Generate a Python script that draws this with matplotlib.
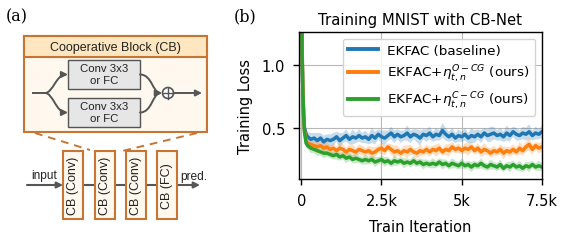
import matplotlib
matplotlib.use("Agg")
import matplotlib.pyplot as plt
from matplotlib.patches import Rectangle, FancyArrowPatch, Circle
from matplotlib.path import Path
import numpy as np

# ---------------- data ----------------
iters = [0, 25, 50, 75, 100, 150] + list(range(200, 7600, 100))

loss_base = [2.3, 1.15, 0.80, 0.60, 0.50, 0.45,
             0.43, 0.41, 0.42, 0.40, 0.42, 0.39, 0.41, 0.40,
             0.41, 0.43, 0.40, 0.42, 0.44, 0.41, 0.43, 0.42, 0.44, 0.42,
             0.43, 0.41, 0.44, 0.42, 0.45, 0.43, 0.42, 0.44, 0.46, 0.43,
             0.45, 0.43, 0.44, 0.46, 0.43, 0.45, 0.44, 0.42, 0.45, 0.44,
             0.46, 0.43, 0.45, 0.44, 0.48, 0.45, 0.43, 0.45, 0.42, 0.44,
             0.43, 0.45, 0.42, 0.44, 0.43, 0.45, 0.43, 0.46, 0.44, 0.45,
             0.46, 0.44, 0.45, 0.43, 0.46, 0.44, 0.47, 0.45, 0.44, 0.46,
             0.45, 0.47, 0.44, 0.46, 0.45, 0.47]
sd_base = [0.06, 0.06, 0.06, 0.05, 0.05, 0.05,
           0.04, 0.05, 0.04, 0.06, 0.04, 0.05, 0.04, 0.05,
           0.05, 0.04, 0.06, 0.04, 0.05, 0.04, 0.06, 0.04, 0.05, 0.04,
           0.05, 0.04, 0.06, 0.05, 0.04, 0.05, 0.06, 0.04, 0.05, 0.05,
           0.04, 0.05, 0.04, 0.06, 0.05, 0.04, 0.05, 0.06, 0.04, 0.05,
           0.05, 0.04, 0.05, 0.04, 0.06, 0.05, 0.04, 0.05, 0.04, 0.05,
           0.04, 0.05, 0.04, 0.06, 0.05, 0.04, 0.05, 0.04, 0.05, 0.06,
           0.05, 0.04, 0.05, 0.04, 0.06, 0.05, 0.04, 0.05, 0.04, 0.05,
           0.05, 0.06, 0.04, 0.05, 0.04, 0.05]

loss_ocg = [2.3, 1.15, 0.80, 0.60, 0.48, 0.40,
            0.38, 0.37, 0.36, 0.35, 0.36, 0.34, 0.35, 0.33,
            0.34, 0.32, 0.34, 0.33, 0.31, 0.33, 0.32, 0.31, 0.33, 0.32,
            0.31, 0.32, 0.30, 0.31, 0.33, 0.34, 0.32, 0.35, 0.33, 0.31,
            0.32, 0.30, 0.32, 0.31, 0.33, 0.31, 0.30, 0.32, 0.31, 0.33,
            0.31, 0.33, 0.32, 0.34, 0.31, 0.33, 0.32, 0.35, 0.33, 0.34,
            0.32, 0.34, 0.33, 0.35, 0.32, 0.34, 0.31, 0.33, 0.32, 0.30,
            0.32, 0.31, 0.33, 0.30, 0.32, 0.31, 0.33, 0.31, 0.34, 0.32,
            0.35, 0.37, 0.33, 0.36, 0.34, 0.35]
sd_ocg = [0.05, 0.05, 0.05, 0.05, 0.04, 0.04,
          0.04, 0.03, 0.04, 0.05, 0.03, 0.04, 0.04, 0.03,
          0.04, 0.03, 0.05, 0.04, 0.03, 0.04, 0.05, 0.03, 0.04, 0.04,
          0.03, 0.04, 0.05, 0.04, 0.03, 0.05, 0.04, 0.03, 0.04, 0.05,
          0.04, 0.03, 0.04, 0.05, 0.04, 0.03, 0.04, 0.05, 0.03, 0.04,
          0.04, 0.03, 0.05, 0.04, 0.03, 0.04, 0.05, 0.04, 0.03, 0.04,
          0.03, 0.04, 0.05, 0.04, 0.03, 0.04, 0.04, 0.05, 0.03, 0.04,
          0.04, 0.03, 0.04, 0.05, 0.03, 0.04, 0.04, 0.03, 0.05, 0.04,
          0.04, 0.05, 0.04, 0.03, 0.04, 0.04]

loss_ccg = [2.3, 1.10, 0.80, 0.60, 0.47, 0.38,
            0.36, 0.34, 0.33, 0.32, 0.31, 0.30, 0.30, 0.29,
            0.28, 0.29, 0.27, 0.28, 0.26, 0.27, 0.25, 0.26, 0.25, 0.24,
            0.25, 0.24, 0.25, 0.23, 0.24, 0.25, 0.23, 0.24, 0.22, 0.24,
            0.23, 0.24, 0.22, 0.23, 0.22, 0.24, 0.22, 0.23, 0.21, 0.22,
            0.21, 0.22, 0.21, 0.23, 0.21, 0.22, 0.20, 0.22, 0.21, 0.20,
            0.22, 0.20, 0.21, 0.19, 0.21, 0.20, 0.22, 0.20, 0.19, 0.21,
            0.20, 0.19, 0.21, 0.18, 0.20, 0.19, 0.21, 0.19, 0.20, 0.18,
            0.20, 0.19, 0.21, 0.19, 0.20, 0.19]
sd_ccg = [0.05, 0.05, 0.04, 0.04, 0.04, 0.04,
          0.03, 0.04, 0.03, 0.04, 0.03, 0.04, 0.03, 0.03,
          0.03, 0.04, 0.03, 0.03, 0.04, 0.03, 0.03, 0.04, 0.03, 0.03,
          0.04, 0.03, 0.03, 0.04, 0.03, 0.03, 0.04, 0.03, 0.03, 0.04,
          0.03, 0.03, 0.04, 0.03, 0.03, 0.04, 0.03, 0.03, 0.04, 0.03,
          0.03, 0.04, 0.03, 0.03, 0.04, 0.03, 0.03, 0.04, 0.03, 0.03,
          0.04, 0.03, 0.03, 0.04, 0.03, 0.03, 0.04, 0.03, 0.03, 0.04,
          0.03, 0.03, 0.04, 0.03, 0.03, 0.04, 0.03, 0.03, 0.04, 0.03,
          0.03, 0.04, 0.03, 0.03, 0.04, 0.03]

labels = ["EKFAC (baseline)",
          r"EKFAC+$\eta_{t,n}^{O-CG}$ (ours)",
          r"EKFAC+$\eta_{t,n}^{C-CG}$ (ours)"]
colors = ["#1f77b4", "#ff7f0e", "#2ca02c"]
xtick_vals = [0, 2500, 5000, 7500]
xtick_labels = ["0", "2.5k", "5k", "7.5k"]
ytick_vals = [0.5, 1.0]
ytick_labels = ["0.5", "1.0"]
block_labels = ["CB (Conv)", "CB (Conv)", "CB (Conv)", "CB (FC)"]

# ---------------- figure ----------------
W, H = 568, 251
fig = plt.figure(figsize=(W / 100, H / 100), dpi=100)

# diagram axes in pixel coordinates
axd = fig.add_axes([0, 0, 1, 1])
axd.set_xlim(0, W)
axd.set_ylim(H, 0)
axd.axis("off")

ORG = "#c87533"
HEAD = "#fde6c0"
BODY = "#fef8ee"
GRAY = "#555555"
SANS = "Liberation Sans"

# outer cooperative block
axd.add_patch(Rectangle((24, 37), 183, 96, facecolor=BODY, edgecolor=ORG, lw=1.5, zorder=1))
axd.add_patch(Rectangle((24, 37), 183, 21, facecolor=HEAD, edgecolor=ORG, lw=1.5, zorder=2))
axd.text(115.5, 48, "Cooperative Block (CB)", ha="center", va="center", fontsize=9,
         family=SANS, color="#222222", zorder=3)

# inner boxes
for y0 in (61, 99):
    axd.add_patch(Rectangle((68, y0), 72, 29, facecolor="#e6e6e6", edgecolor=GRAY, lw=1.0, zorder=3))
    axd.text(104, y0 + 8.5, "Conv 3x3", ha="center", va="center", fontsize=8.2, family=SANS,
             color="#222222", zorder=4)
    axd.text(104, y0 + 20.5, "or FC", ha="center", va="center", fontsize=8.2, family=SANS,
             color="#222222", zorder=4)

# input split
axd.plot([32, 45], [94, 94], color=GRAY, lw=1.4, zorder=3, solid_capstyle="butt")
for yt in (75.5, 113.5):
    p = Path([(45, 94), (53, 94), (56, yt), (68, yt)],
             [Path.MOVETO, Path.CURVE4, Path.CURVE4, Path.CURVE4])
    axd.add_patch(FancyArrowPatch(path=p, arrowstyle="-|>", mutation_scale=9, color=GRAY,
                                  lw=1.4, zorder=4, shrinkA=0, shrinkB=0))
    p2 = Path([(140, yt), (152, yt), (153, 94), (162, 94)],
              [Path.MOVETO, Path.CURVE4, Path.CURVE4, Path.CURVE4])
    axd.add_patch(FancyArrowPatch(path=p2, arrowstyle="-|>", mutation_scale=9, color=GRAY,
                                  lw=1.4, zorder=4, shrinkA=0, shrinkB=0))

# circle plus
axd.add_patch(Circle((168, 94), 5.5, facecolor="white", edgecolor=GRAY, lw=1.2, zorder=5))
axd.plot([162.5, 173.5], [94, 94], color=GRAY, lw=1.0, zorder=6)
axd.plot([168, 168], [88.5, 99.5], color=GRAY, lw=1.0, zorder=6)
axd.add_patch(FancyArrowPatch((173.5, 94), (202, 94), arrowstyle="-|>", mutation_scale=9,
                              color=GRAY, lw=1.4, zorder=4, shrinkA=0, shrinkB=0))

# dashed zoom lines
axd.plot([35, 90], [134, 151], color=ORG, lw=1.4, ls=(0, (4, 3)), zorder=1)
axd.plot([197, 118], [134, 153], color=ORG, lw=1.4, ls=(0, (4, 3)), zorder=1)

# main pipeline
ymain = 186
axd.add_patch(FancyArrowPatch((27, ymain), (63, ymain), arrowstyle="-|>", mutation_scale=9,
                              color=GRAY, lw=1.5, zorder=2, shrinkA=0, shrinkB=0))
axd.add_patch(FancyArrowPatch((177, ymain), (200, ymain), arrowstyle="-|>", mutation_scale=9,
                              color=GRAY, lw=1.5, zorder=2, shrinkA=0, shrinkB=0))
block_x = [63, 95, 126, 157]
axd.plot([63, 177], [ymain, ymain], color=GRAY, lw=1.5, zorder=1)
for bx, lab in zip(block_x, block_labels):
    axd.add_patch(Rectangle((bx, 152), 20, 68, facecolor=BODY, edgecolor=ORG, lw=1.5, zorder=3))
    axd.text(bx + 10, 186, lab, rotation=90, ha="center", va="center", fontsize=9,
             family=SANS, color="#222222", zorder=4)
axd.text(44, 176, "input", ha="center", va="center", fontsize=8.6, family=SANS, color="#222222")
axd.text(194, 177, "pred.", ha="center", va="center", fontsize=8.6, family=SANS, color="#222222")

# panel letters
fig.text(17 / W, 1 - 17 / H, "(a)", ha="center", va="center", fontsize=11.5, family="DejaVu Serif")
fig.text(245 / W, 1 - 17 / H, "(b)", ha="center", va="center", fontsize=11.5, family="DejaVu Serif")

# ---------------- chart ----------------
ax = fig.add_axes([299 / W, 1 - 180 / H, (542 - 299) / W, (180 - 33) / H])
series = [(loss_base, sd_base), (loss_ocg, sd_ocg), (loss_ccg, sd_ccg)]
x = np.array(iters)
for (m, s), c, lab in zip(series, colors, labels):
    m = np.array(m)
    s = np.array(s)
    ax.fill_between(x, m - s, m + s, color=c, alpha=0.25, lw=0)
    ax.plot(x, m, color=c, lw=2.5, label=lab)

ax.set_xlim(-70, 7500)
ax.set_ylim(0.095, 1.262)
ax.set_xticks(xtick_vals)
ax.set_xticklabels(xtick_labels)
ax.set_yticks(ytick_vals)
ax.set_yticklabels(ytick_labels)
ax.grid(True, color="#b8b8b8", lw=0.8)
ax.set_axisbelow(True)
for sp in ax.spines.values():
    sp.set_color("black")
    sp.set_linewidth(1.0)
ax.tick_params(labelsize=10.5, length=4, width=1.0, color="black", pad=6)
ax.set_title("Training MNIST with CB-Net", fontsize=10.7, pad=6)
ax.set_xlabel("Train Iteration", fontsize=10.5, labelpad=8)
ax.set_ylabel("Training Loss", fontsize=10.5, labelpad=6)
leg = ax.legend(loc="upper right", fontsize=9.7, fancybox=True, framealpha=0.85,
                edgecolor="#cccccc", handlelength=2.2, borderpad=0.4, labelspacing=0.4,
                handletextpad=0.7)
for h in leg.get_lines():
    h.set_linewidth(2.8)

fig.savefig("out.png", dpi=100)
